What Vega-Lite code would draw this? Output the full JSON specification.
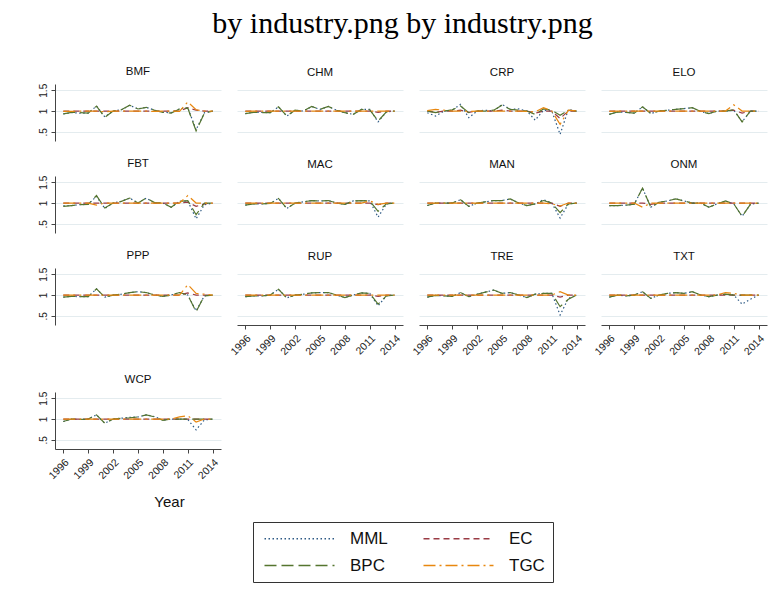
{
  "$schema": "https://vega.github.io/schema/vega-lite/v6.json",
  "padding": {"left": 38, "top": 8, "right": 5, "bottom": 5},
  "background": "white",
  "title": {"text": "by industry.png by industry.png", "font": "Liberation Serif", "fontSize": 30, "fontWeight": "normal", "color": "#000", "anchor": "middle", "offset": 27},
  "data": {"values": [
{"i":"BMF","y":1996,"MML":0.93,"EC":1,"BPC":0.93,"TGC":0.99},
{"i":"BMF","y":1997,"MML":0.96,"EC":1,"BPC":0.97,"TGC":0.99},
{"i":"BMF","y":1998,"MML":0.95,"EC":1,"BPC":0.96,"TGC":1},
{"i":"BMF","y":1999,"MML":0.95,"EC":1,"BPC":0.95,"TGC":1},
{"i":"BMF","y":2000,"MML":1.12,"EC":1,"BPC":1.12,"TGC":1},
{"i":"BMF","y":2001,"MML":0.86,"EC":1,"BPC":0.85,"TGC":0.98},
{"i":"BMF","y":2002,"MML":1.0,"EC":1,"BPC":1.0,"TGC":1},
{"i":"BMF","y":2003,"MML":1.03,"EC":1,"BPC":1.03,"TGC":1},
{"i":"BMF","y":2004,"MML":1.14,"EC":1,"BPC":1.14,"TGC":1},
{"i":"BMF","y":2005,"MML":1.05,"EC":1,"BPC":1.05,"TGC":1},
{"i":"BMF","y":2006,"MML":1.09,"EC":1,"BPC":1.09,"TGC":1},
{"i":"BMF","y":2007,"MML":1.02,"EC":1,"BPC":1.02,"TGC":0.99},
{"i":"BMF","y":2008,"MML":0.97,"EC":1,"BPC":0.97,"TGC":1},
{"i":"BMF","y":2009,"MML":0.96,"EC":1,"BPC":0.95,"TGC":1},
{"i":"BMF","y":2010,"MML":1.05,"EC":1,"BPC":1.05,"TGC":0.99},
{"i":"BMF","y":2011,"MML":1.08,"EC":1.08,"BPC":1.07,"TGC":1.22},
{"i":"BMF","y":2012,"MML":0.55,"EC":1.02,"BPC":0.52,"TGC":1.03},
{"i":"BMF","y":2013,"MML":0.96,"EC":1,"BPC":0.95,"TGC":1},
{"i":"BMF","y":2014,"MML":1.0,"EC":1,"BPC":1.0,"TGC":1},
{"i":"CHM","y":1996,"MML":0.94,"EC":1,"BPC":0.94,"TGC":0.99},
{"i":"CHM","y":1997,"MML":0.97,"EC":1,"BPC":0.97,"TGC":1},
{"i":"CHM","y":1998,"MML":0.97,"EC":1,"BPC":0.96,"TGC":1},
{"i":"CHM","y":1999,"MML":0.96,"EC":1,"BPC":0.96,"TGC":1},
{"i":"CHM","y":2000,"MML":1.1,"EC":1,"BPC":1.1,"TGC":1},
{"i":"CHM","y":2001,"MML":0.88,"EC":1,"BPC":0.88,"TGC":1},
{"i":"CHM","y":2002,"MML":1.02,"EC":1,"BPC":1.02,"TGC":1},
{"i":"CHM","y":2003,"MML":1.0,"EC":1,"BPC":1.0,"TGC":1},
{"i":"CHM","y":2004,"MML":1.11,"EC":1,"BPC":1.11,"TGC":1},
{"i":"CHM","y":2005,"MML":1.04,"EC":1,"BPC":1.04,"TGC":1},
{"i":"CHM","y":2006,"MML":1.11,"EC":1,"BPC":1.11,"TGC":1},
{"i":"CHM","y":2007,"MML":1.02,"EC":1,"BPC":1.02,"TGC":1},
{"i":"CHM","y":2008,"MML":0.96,"EC":1,"BPC":0.96,"TGC":1},
{"i":"CHM","y":2009,"MML":0.92,"EC":1,"BPC":0.92,"TGC":1},
{"i":"CHM","y":2010,"MML":1.04,"EC":1,"BPC":1.04,"TGC":1},
{"i":"CHM","y":2011,"MML":1.04,"EC":1,"BPC":1.03,"TGC":1},
{"i":"CHM","y":2012,"MML":0.74,"EC":0.97,"BPC":0.76,"TGC":1},
{"i":"CHM","y":2013,"MML":0.98,"EC":1,"BPC":0.98,"TGC":1},
{"i":"CHM","y":2014,"MML":1.0,"EC":1,"BPC":1.0,"TGC":1},
{"i":"CRP","y":1996,"MML":0.96,"EC":1,"BPC":1.0,"TGC":1.01},
{"i":"CRP","y":1997,"MML":0.88,"EC":0.97,"BPC":0.96,"TGC":1.04},
{"i":"CRP","y":1998,"MML":1.0,"EC":1,"BPC":1.0,"TGC":1.02},
{"i":"CRP","y":1999,"MML":1.02,"EC":1,"BPC":1.03,"TGC":1.0},
{"i":"CRP","y":2000,"MML":1.16,"EC":1.02,"BPC":1.12,"TGC":1.0},
{"i":"CRP","y":2001,"MML":0.84,"EC":0.97,"BPC":0.96,"TGC":0.99},
{"i":"CRP","y":2002,"MML":1.0,"EC":1,"BPC":1.0,"TGC":1},
{"i":"CRP","y":2003,"MML":1.02,"EC":1,"BPC":1.0,"TGC":1},
{"i":"CRP","y":2004,"MML":1.0,"EC":1,"BPC":1.02,"TGC":1},
{"i":"CRP","y":2005,"MML":1.16,"EC":1.02,"BPC":1.14,"TGC":1},
{"i":"CRP","y":2006,"MML":1.04,"EC":1,"BPC":1.04,"TGC":1},
{"i":"CRP","y":2007,"MML":1.05,"EC":1,"BPC":1.02,"TGC":1},
{"i":"CRP","y":2008,"MML":1.0,"EC":1,"BPC":1.0,"TGC":0.99},
{"i":"CRP","y":2009,"MML":0.78,"EC":0.95,"BPC":0.92,"TGC":0.98},
{"i":"CRP","y":2010,"MML":1.02,"EC":1,"BPC":1.05,"TGC":1.08},
{"i":"CRP","y":2011,"MML":1.0,"EC":1,"BPC":1.02,"TGC":1.0},
{"i":"CRP","y":2012,"MML":0.44,"EC":0.82,"BPC":0.9,"TGC":0.68},
{"i":"CRP","y":2013,"MML":1.04,"EC":1,"BPC":1.02,"TGC":1.02},
{"i":"CRP","y":2014,"MML":1.0,"EC":1,"BPC":1.0,"TGC":1},
{"i":"ELO","y":1996,"MML":0.92,"EC":1,"BPC":0.92,"TGC":0.99},
{"i":"ELO","y":1997,"MML":0.98,"EC":1,"BPC":0.98,"TGC":1},
{"i":"ELO","y":1998,"MML":0.97,"EC":1,"BPC":0.97,"TGC":1},
{"i":"ELO","y":1999,"MML":0.95,"EC":1,"BPC":0.95,"TGC":1},
{"i":"ELO","y":2000,"MML":1.1,"EC":1,"BPC":1.1,"TGC":1},
{"i":"ELO","y":2001,"MML":0.94,"EC":1,"BPC":0.94,"TGC":1},
{"i":"ELO","y":2002,"MML":1.0,"EC":1,"BPC":1.0,"TGC":1},
{"i":"ELO","y":2003,"MML":1.02,"EC":1,"BPC":1.02,"TGC":1},
{"i":"ELO","y":2004,"MML":1.04,"EC":1,"BPC":1.04,"TGC":1},
{"i":"ELO","y":2005,"MML":1.06,"EC":1,"BPC":1.06,"TGC":1},
{"i":"ELO","y":2006,"MML":1.08,"EC":1,"BPC":1.08,"TGC":1},
{"i":"ELO","y":2007,"MML":0.99,"EC":1,"BPC":0.99,"TGC":1},
{"i":"ELO","y":2008,"MML":0.94,"EC":1,"BPC":0.94,"TGC":1},
{"i":"ELO","y":2009,"MML":1.0,"EC":1,"BPC":1.0,"TGC":1},
{"i":"ELO","y":2010,"MML":1.0,"EC":1,"BPC":1.0,"TGC":1},
{"i":"ELO","y":2011,"MML":1.02,"EC":1.02,"BPC":1.03,"TGC":1.15},
{"i":"ELO","y":2012,"MML":0.74,"EC":0.95,"BPC":0.74,"TGC":1.0},
{"i":"ELO","y":2013,"MML":1.0,"EC":1,"BPC":1.0,"TGC":1},
{"i":"ELO","y":2014,"MML":1.0,"EC":1,"BPC":1.0,"TGC":1},
{"i":"FBT","y":1996,"MML":0.93,"EC":1,"BPC":0.92,"TGC":1},
{"i":"FBT","y":1997,"MML":0.94,"EC":1,"BPC":0.94,"TGC":1},
{"i":"FBT","y":1998,"MML":0.96,"EC":1,"BPC":0.96,"TGC":1},
{"i":"FBT","y":1999,"MML":0.97,"EC":1,"BPC":0.97,"TGC":1},
{"i":"FBT","y":2000,"MML":1.16,"EC":1,"BPC":1.18,"TGC":0.95},
{"i":"FBT","y":2001,"MML":0.87,"EC":1,"BPC":0.88,"TGC":1},
{"i":"FBT","y":2002,"MML":1.0,"EC":1,"BPC":1.0,"TGC":1},
{"i":"FBT","y":2003,"MML":1.04,"EC":1,"BPC":1.04,"TGC":1},
{"i":"FBT","y":2004,"MML":1.12,"EC":1,"BPC":1.12,"TGC":1},
{"i":"FBT","y":2005,"MML":1.0,"EC":1,"BPC":1.0,"TGC":1},
{"i":"FBT","y":2006,"MML":1.12,"EC":1,"BPC":1.12,"TGC":1},
{"i":"FBT","y":2007,"MML":1.0,"EC":1,"BPC":1.01,"TGC":1},
{"i":"FBT","y":2008,"MML":1.0,"EC":1,"BPC":1.0,"TGC":1},
{"i":"FBT","y":2009,"MML":0.9,"EC":1,"BPC":0.9,"TGC":1},
{"i":"FBT","y":2010,"MML":1.04,"EC":1,"BPC":1.04,"TGC":1},
{"i":"FBT","y":2011,"MML":1.05,"EC":1.02,"BPC":1.06,"TGC":1.18},
{"i":"FBT","y":2012,"MML":0.62,"EC":0.92,"BPC":0.72,"TGC":1.0},
{"i":"FBT","y":2013,"MML":0.96,"EC":0.98,"BPC":1.0,"TGC":1},
{"i":"FBT","y":2014,"MML":1.0,"EC":1,"BPC":1.0,"TGC":1},
{"i":"MAC","y":1996,"MML":0.95,"EC":1,"BPC":0.95,"TGC":1},
{"i":"MAC","y":1997,"MML":0.98,"EC":1,"BPC":0.98,"TGC":1},
{"i":"MAC","y":1998,"MML":0.98,"EC":1,"BPC":0.98,"TGC":1},
{"i":"MAC","y":1999,"MML":0.99,"EC":1,"BPC":0.99,"TGC":1},
{"i":"MAC","y":2000,"MML":1.11,"EC":1,"BPC":1.11,"TGC":1},
{"i":"MAC","y":2001,"MML":0.87,"EC":1,"BPC":0.87,"TGC":1},
{"i":"MAC","y":2002,"MML":1.0,"EC":1,"BPC":1.0,"TGC":1},
{"i":"MAC","y":2003,"MML":1.03,"EC":1,"BPC":1.03,"TGC":1},
{"i":"MAC","y":2004,"MML":1.06,"EC":1,"BPC":1.06,"TGC":1},
{"i":"MAC","y":2005,"MML":1.05,"EC":1,"BPC":1.05,"TGC":1},
{"i":"MAC","y":2006,"MML":1.06,"EC":1,"BPC":1.06,"TGC":1},
{"i":"MAC","y":2007,"MML":1.0,"EC":1,"BPC":1.0,"TGC":1},
{"i":"MAC","y":2008,"MML":0.97,"EC":1,"BPC":0.97,"TGC":1},
{"i":"MAC","y":2009,"MML":1.05,"EC":1,"BPC":1.05,"TGC":1},
{"i":"MAC","y":2010,"MML":1.06,"EC":1,"BPC":1.06,"TGC":1},
{"i":"MAC","y":2011,"MML":1.05,"EC":1,"BPC":1.05,"TGC":1.05},
{"i":"MAC","y":2012,"MML":0.66,"EC":0.96,"BPC":0.8,"TGC":0.97},
{"i":"MAC","y":2013,"MML":0.98,"EC":1,"BPC":0.98,"TGC":1},
{"i":"MAC","y":2014,"MML":1.0,"EC":1,"BPC":1.0,"TGC":1},
{"i":"MAN","y":1996,"MML":0.94,"EC":1,"BPC":0.94,"TGC":1},
{"i":"MAN","y":1997,"MML":1.0,"EC":1,"BPC":1.0,"TGC":1},
{"i":"MAN","y":1998,"MML":1.0,"EC":1,"BPC":1.0,"TGC":1},
{"i":"MAN","y":1999,"MML":1.0,"EC":1,"BPC":1.0,"TGC":1},
{"i":"MAN","y":2000,"MML":1.08,"EC":1,"BPC":1.08,"TGC":1},
{"i":"MAN","y":2001,"MML":0.92,"EC":1,"BPC":0.92,"TGC":1},
{"i":"MAN","y":2002,"MML":1.0,"EC":1,"BPC":1.0,"TGC":1},
{"i":"MAN","y":2003,"MML":1.03,"EC":1,"BPC":1.03,"TGC":1},
{"i":"MAN","y":2004,"MML":1.06,"EC":1,"BPC":1.06,"TGC":1},
{"i":"MAN","y":2005,"MML":1.06,"EC":1,"BPC":1.06,"TGC":1},
{"i":"MAN","y":2006,"MML":1.1,"EC":1,"BPC":1.1,"TGC":1},
{"i":"MAN","y":2007,"MML":1.0,"EC":1,"BPC":1.0,"TGC":1},
{"i":"MAN","y":2008,"MML":0.94,"EC":1,"BPC":0.94,"TGC":1},
{"i":"MAN","y":2009,"MML":0.98,"EC":1,"BPC":0.98,"TGC":1},
{"i":"MAN","y":2010,"MML":1.08,"EC":1,"BPC":1.06,"TGC":1},
{"i":"MAN","y":2011,"MML":1.0,"EC":1,"BPC":1.0,"TGC":0.98},
{"i":"MAN","y":2012,"MML":0.64,"EC":0.92,"BPC":0.77,"TGC":0.93},
{"i":"MAN","y":2013,"MML":0.98,"EC":1,"BPC":0.98,"TGC":1},
{"i":"MAN","y":2014,"MML":1.0,"EC":1,"BPC":1.0,"TGC":1},
{"i":"ONM","y":1996,"MML":0.94,"EC":1,"BPC":0.94,"TGC":1},
{"i":"ONM","y":1997,"MML":0.94,"EC":1,"BPC":0.94,"TGC":1},
{"i":"ONM","y":1998,"MML":0.95,"EC":1,"BPC":0.95,"TGC":1},
{"i":"ONM","y":1999,"MML":0.97,"EC":1,"BPC":0.97,"TGC":1},
{"i":"ONM","y":2000,"MML":1.36,"EC":1,"BPC":1.36,"TGC":0.9},
{"i":"ONM","y":2001,"MML":0.9,"EC":0.97,"BPC":0.9,"TGC":1},
{"i":"ONM","y":2002,"MML":1.02,"EC":1,"BPC":1.02,"TGC":1},
{"i":"ONM","y":2003,"MML":1.05,"EC":1,"BPC":1.05,"TGC":1},
{"i":"ONM","y":2004,"MML":1.1,"EC":1,"BPC":1.1,"TGC":1},
{"i":"ONM","y":2005,"MML":1.05,"EC":1,"BPC":1.05,"TGC":1},
{"i":"ONM","y":2006,"MML":1.0,"EC":1,"BPC":1.0,"TGC":1},
{"i":"ONM","y":2007,"MML":1.0,"EC":1,"BPC":1.0,"TGC":1},
{"i":"ONM","y":2008,"MML":0.9,"EC":1,"BPC":0.9,"TGC":1},
{"i":"ONM","y":2009,"MML":0.98,"EC":1,"BPC":0.98,"TGC":1},
{"i":"ONM","y":2010,"MML":1.05,"EC":1,"BPC":1.05,"TGC":1},
{"i":"ONM","y":2011,"MML":0.98,"EC":1,"BPC":0.98,"TGC":1},
{"i":"ONM","y":2012,"MML":0.68,"EC":1,"BPC":0.68,"TGC":1},
{"i":"ONM","y":2013,"MML":0.97,"EC":1,"BPC":0.97,"TGC":1},
{"i":"ONM","y":2014,"MML":1.0,"EC":1,"BPC":1.0,"TGC":1},
{"i":"PPP","y":1996,"MML":0.95,"EC":1,"BPC":0.95,"TGC":1},
{"i":"PPP","y":1997,"MML":0.97,"EC":1,"BPC":0.97,"TGC":1},
{"i":"PPP","y":1998,"MML":0.96,"EC":1,"BPC":0.96,"TGC":1},
{"i":"PPP","y":1999,"MML":0.96,"EC":1,"BPC":0.96,"TGC":1},
{"i":"PPP","y":2000,"MML":1.15,"EC":1,"BPC":1.15,"TGC":1},
{"i":"PPP","y":2001,"MML":0.95,"EC":1,"BPC":0.95,"TGC":1},
{"i":"PPP","y":2002,"MML":1.0,"EC":1,"BPC":1.0,"TGC":1},
{"i":"PPP","y":2003,"MML":1.02,"EC":1,"BPC":1.02,"TGC":1},
{"i":"PPP","y":2004,"MML":1.06,"EC":1,"BPC":1.06,"TGC":1},
{"i":"PPP","y":2005,"MML":1.08,"EC":1,"BPC":1.08,"TGC":1},
{"i":"PPP","y":2006,"MML":1.06,"EC":1,"BPC":1.06,"TGC":1},
{"i":"PPP","y":2007,"MML":1.0,"EC":1,"BPC":1.0,"TGC":1},
{"i":"PPP","y":2008,"MML":0.97,"EC":1,"BPC":0.97,"TGC":1},
{"i":"PPP","y":2009,"MML":1.0,"EC":1,"BPC":1.0,"TGC":1},
{"i":"PPP","y":2010,"MML":1.06,"EC":1,"BPC":1.06,"TGC":1},
{"i":"PPP","y":2011,"MML":1.0,"EC":1.05,"BPC":1.0,"TGC":1.25},
{"i":"PPP","y":2012,"MML":0.62,"EC":1.0,"BPC":0.6,"TGC":1.04},
{"i":"PPP","y":2013,"MML":0.98,"EC":1,"BPC":0.98,"TGC":1.02},
{"i":"PPP","y":2014,"MML":1.0,"EC":1,"BPC":1.0,"TGC":1},
{"i":"RUP","y":1996,"MML":0.96,"EC":1,"BPC":0.96,"TGC":1},
{"i":"RUP","y":1997,"MML":0.98,"EC":1,"BPC":0.98,"TGC":1},
{"i":"RUP","y":1998,"MML":0.98,"EC":1,"BPC":0.98,"TGC":1},
{"i":"RUP","y":1999,"MML":1.0,"EC":1,"BPC":1.0,"TGC":1},
{"i":"RUP","y":2000,"MML":1.14,"EC":1,"BPC":1.14,"TGC":1},
{"i":"RUP","y":2001,"MML":0.93,"EC":1,"BPC":0.93,"TGC":1},
{"i":"RUP","y":2002,"MML":1.0,"EC":1,"BPC":1.0,"TGC":1},
{"i":"RUP","y":2003,"MML":1.02,"EC":1,"BPC":1.02,"TGC":1},
{"i":"RUP","y":2004,"MML":1.05,"EC":1,"BPC":1.05,"TGC":1},
{"i":"RUP","y":2005,"MML":1.06,"EC":1,"BPC":1.06,"TGC":1},
{"i":"RUP","y":2006,"MML":1.06,"EC":1,"BPC":1.06,"TGC":1},
{"i":"RUP","y":2007,"MML":1.0,"EC":1,"BPC":1.0,"TGC":1},
{"i":"RUP","y":2008,"MML":0.94,"EC":1,"BPC":0.94,"TGC":1},
{"i":"RUP","y":2009,"MML":1.0,"EC":1,"BPC":1.0,"TGC":1},
{"i":"RUP","y":2010,"MML":1.05,"EC":1,"BPC":1.05,"TGC":1},
{"i":"RUP","y":2011,"MML":1.04,"EC":1,"BPC":1.04,"TGC":1},
{"i":"RUP","y":2012,"MML":0.74,"EC":0.97,"BPC":0.78,"TGC":1},
{"i":"RUP","y":2013,"MML":0.98,"EC":1,"BPC":0.98,"TGC":1},
{"i":"RUP","y":2014,"MML":1.0,"EC":1,"BPC":1.0,"TGC":1},
{"i":"TRE","y":1996,"MML":0.95,"EC":1,"BPC":0.95,"TGC":1},
{"i":"TRE","y":1997,"MML":0.99,"EC":1,"BPC":0.99,"TGC":1},
{"i":"TRE","y":1998,"MML":0.98,"EC":1,"BPC":0.98,"TGC":1},
{"i":"TRE","y":1999,"MML":0.97,"EC":1,"BPC":0.97,"TGC":1},
{"i":"TRE","y":2000,"MML":1.06,"EC":1,"BPC":1.06,"TGC":1},
{"i":"TRE","y":2001,"MML":0.96,"EC":1,"BPC":0.96,"TGC":1},
{"i":"TRE","y":2002,"MML":1.02,"EC":1,"BPC":1.02,"TGC":1},
{"i":"TRE","y":2003,"MML":1.07,"EC":1,"BPC":1.07,"TGC":1},
{"i":"TRE","y":2004,"MML":1.12,"EC":1,"BPC":1.12,"TGC":1},
{"i":"TRE","y":2005,"MML":1.04,"EC":1,"BPC":1.04,"TGC":1},
{"i":"TRE","y":2006,"MML":1.06,"EC":1,"BPC":1.06,"TGC":1},
{"i":"TRE","y":2007,"MML":1.0,"EC":1,"BPC":1.0,"TGC":1},
{"i":"TRE","y":2008,"MML":0.94,"EC":1,"BPC":0.94,"TGC":1},
{"i":"TRE","y":2009,"MML":1.02,"EC":1,"BPC":1.02,"TGC":1},
{"i":"TRE","y":2010,"MML":1.04,"EC":1,"BPC":1.04,"TGC":1},
{"i":"TRE","y":2011,"MML":1.04,"EC":1,"BPC":1.04,"TGC":1},
{"i":"TRE","y":2012,"MML":0.52,"EC":0.95,"BPC":0.72,"TGC":1.08},
{"i":"TRE","y":2013,"MML":0.92,"EC":1,"BPC":0.9,"TGC":1},
{"i":"TRE","y":2014,"MML":1.0,"EC":1,"BPC":1.0,"TGC":1},
{"i":"TXT","y":1996,"MML":0.95,"EC":1,"BPC":0.95,"TGC":1},
{"i":"TXT","y":1997,"MML":1.0,"EC":1,"BPC":1.0,"TGC":1},
{"i":"TXT","y":1998,"MML":0.98,"EC":1,"BPC":0.98,"TGC":1},
{"i":"TXT","y":1999,"MML":1.0,"EC":1,"BPC":1.0,"TGC":1},
{"i":"TXT","y":2000,"MML":1.08,"EC":1,"BPC":1.08,"TGC":1},
{"i":"TXT","y":2001,"MML":0.92,"EC":1,"BPC":0.92,"TGC":1},
{"i":"TXT","y":2002,"MML":1.0,"EC":1,"BPC":1.0,"TGC":1},
{"i":"TXT","y":2003,"MML":1.04,"EC":1,"BPC":1.04,"TGC":1},
{"i":"TXT","y":2004,"MML":1.06,"EC":1,"BPC":1.06,"TGC":1},
{"i":"TXT","y":2005,"MML":1.04,"EC":1,"BPC":1.04,"TGC":1},
{"i":"TXT","y":2006,"MML":1.08,"EC":1,"BPC":1.08,"TGC":1},
{"i":"TXT","y":2007,"MML":1.0,"EC":1,"BPC":1.0,"TGC":1},
{"i":"TXT","y":2008,"MML":0.96,"EC":1,"BPC":0.96,"TGC":1},
{"i":"TXT","y":2009,"MML":1.0,"EC":1,"BPC":1.0,"TGC":1},
{"i":"TXT","y":2010,"MML":1.02,"EC":1,"BPC":1.02,"TGC":1.06},
{"i":"TXT","y":2011,"MML":1.0,"EC":1,"BPC":1.0,"TGC":1.04},
{"i":"TXT","y":2012,"MML":0.78,"EC":1,"BPC":1.0,"TGC":1},
{"i":"TXT","y":2013,"MML":0.9,"EC":1,"BPC":1.0,"TGC":1},
{"i":"TXT","y":2014,"MML":1.0,"EC":1,"BPC":1.0,"TGC":1},
{"i":"WCP","y":1996,"MML":0.94,"EC":1,"BPC":0.94,"TGC":1},
{"i":"WCP","y":1997,"MML":1.0,"EC":1,"BPC":1.0,"TGC":1},
{"i":"WCP","y":1998,"MML":0.99,"EC":1,"BPC":0.99,"TGC":1},
{"i":"WCP","y":1999,"MML":1.0,"EC":1,"BPC":1.0,"TGC":1},
{"i":"WCP","y":2000,"MML":1.1,"EC":1,"BPC":1.1,"TGC":1},
{"i":"WCP","y":2001,"MML":0.9,"EC":1,"BPC":0.9,"TGC":1},
{"i":"WCP","y":2002,"MML":1.0,"EC":1,"BPC":1.0,"TGC":1},
{"i":"WCP","y":2003,"MML":1.02,"EC":1,"BPC":1.02,"TGC":1},
{"i":"WCP","y":2004,"MML":1.04,"EC":1,"BPC":1.03,"TGC":1},
{"i":"WCP","y":2005,"MML":1.05,"EC":1,"BPC":1.05,"TGC":1},
{"i":"WCP","y":2006,"MML":1.1,"EC":1,"BPC":1.1,"TGC":1},
{"i":"WCP","y":2007,"MML":1.06,"EC":1,"BPC":1.05,"TGC":1},
{"i":"WCP","y":2008,"MML":0.97,"EC":1,"BPC":0.97,"TGC":1},
{"i":"WCP","y":2009,"MML":1.0,"EC":1,"BPC":1.0,"TGC":1},
{"i":"WCP","y":2010,"MML":1.0,"EC":1,"BPC":1.0,"TGC":1.05},
{"i":"WCP","y":2011,"MML":0.99,"EC":1,"BPC":1.0,"TGC":1.08},
{"i":"WCP","y":2012,"MML":0.74,"EC":1,"BPC":1.0,"TGC":0.93},
{"i":"WCP","y":2013,"MML":0.98,"EC":1,"BPC":1.0,"TGC":1.0},
{"i":"WCP","y":2014,"MML":1.0,"EC":1,"BPC":1.0,"TGC":1}
  ]},
  "transform": [{"fold": ["MML", "EC", "BPC", "TGC"], "as": ["series", "value"]}],
  "columns": 4,
  "align": "each",
  "spacing": {"row": 16, "column": 7},
  "resolve": {"scale": {"color": "shared", "strokeDash": "shared"}},
  "concat": [
    {"title": "BMF", "transform": [{"filter": "datum.i == 'BMF'"}], "width": 166, "height": 57, "mark": {"type": "line", "strokeWidth": 1.2},
     "encoding": {
      "x": {"field": "y", "type": "quantitative", "scale": {"domain": [1995, 2015], "nice": false, "zero": false}, "axis": null},
      "y": {"field": "value", "type": "quantitative", "scale": {"domain": [0.28, 1.65], "nice": false, "zero": false}, "axis": {"values": [0.5, 1, 1.5], "labelExpr": "datum.value == 0.5 ? '.5' : datum.value == 1 ? '1' : '1.5'", "title": null}},
      "color": {"field": "series", "type": "nominal", "title": null, "scale": {"domain": ["MML", "EC", "BPC", "TGC"], "range": ["#2e5a85", "#9a3b45", "#55752f", "#e8870f"]}},
      "strokeDash": {"field": "series", "type": "nominal", "title": null, "scale": {"domain": ["MML", "EC", "BPC", "TGC"], "range": [[1.5, 2.5], [6, 4], [12, 5], [12, 4, 2, 4]]}}}},
    {"title": "CHM", "transform": [{"filter": "datum.i == 'CHM'"}], "width": 166, "height": 57, "mark": {"type": "line", "strokeWidth": 1.2},
     "encoding": {
      "x": {"field": "y", "type": "quantitative", "scale": {"domain": [1995, 2015], "nice": false, "zero": false}, "axis": null},
      "y": {"field": "value", "type": "quantitative", "scale": {"domain": [0.28, 1.65], "nice": false, "zero": false}, "axis": {"values": [0.5, 1, 1.5], "labels": false, "ticks": false, "domain": false, "title": null}},
      "color": {"field": "series", "type": "nominal", "title": null, "scale": {"domain": ["MML", "EC", "BPC", "TGC"], "range": ["#2e5a85", "#9a3b45", "#55752f", "#e8870f"]}},
      "strokeDash": {"field": "series", "type": "nominal", "title": null, "scale": {"domain": ["MML", "EC", "BPC", "TGC"], "range": [[1.5, 2.5], [6, 4], [12, 5], [12, 4, 2, 4]]}}}},
    {"title": "CRP", "transform": [{"filter": "datum.i == 'CRP'"}], "width": 166, "height": 57, "mark": {"type": "line", "strokeWidth": 1.2},
     "encoding": {
      "x": {"field": "y", "type": "quantitative", "scale": {"domain": [1995, 2015], "nice": false, "zero": false}, "axis": null},
      "y": {"field": "value", "type": "quantitative", "scale": {"domain": [0.28, 1.65], "nice": false, "zero": false}, "axis": {"values": [0.5, 1, 1.5], "labels": false, "ticks": false, "domain": false, "title": null}},
      "color": {"field": "series", "type": "nominal", "title": null, "scale": {"domain": ["MML", "EC", "BPC", "TGC"], "range": ["#2e5a85", "#9a3b45", "#55752f", "#e8870f"]}},
      "strokeDash": {"field": "series", "type": "nominal", "title": null, "scale": {"domain": ["MML", "EC", "BPC", "TGC"], "range": [[1.5, 2.5], [6, 4], [12, 5], [12, 4, 2, 4]]}}}},
    {"title": "ELO", "transform": [{"filter": "datum.i == 'ELO'"}], "width": 166, "height": 57, "mark": {"type": "line", "strokeWidth": 1.2},
     "encoding": {
      "x": {"field": "y", "type": "quantitative", "scale": {"domain": [1995, 2015], "nice": false, "zero": false}, "axis": null},
      "y": {"field": "value", "type": "quantitative", "scale": {"domain": [0.28, 1.65], "nice": false, "zero": false}, "axis": {"values": [0.5, 1, 1.5], "labels": false, "ticks": false, "domain": false, "title": null}},
      "color": {"field": "series", "type": "nominal", "title": null, "scale": {"domain": ["MML", "EC", "BPC", "TGC"], "range": ["#2e5a85", "#9a3b45", "#55752f", "#e8870f"]}},
      "strokeDash": {"field": "series", "type": "nominal", "title": null, "scale": {"domain": ["MML", "EC", "BPC", "TGC"], "range": [[1.5, 2.5], [6, 4], [12, 5], [12, 4, 2, 4]]}}}},
    {"title": "FBT", "transform": [{"filter": "datum.i == 'FBT'"}], "width": 166, "height": 57, "mark": {"type": "line", "strokeWidth": 1.2},
     "encoding": {
      "x": {"field": "y", "type": "quantitative", "scale": {"domain": [1995, 2015], "nice": false, "zero": false}, "axis": null},
      "y": {"field": "value", "type": "quantitative", "scale": {"domain": [0.28, 1.65], "nice": false, "zero": false}, "axis": {"values": [0.5, 1, 1.5], "labelExpr": "datum.value == 0.5 ? '.5' : datum.value == 1 ? '1' : '1.5'", "title": null}},
      "color": {"field": "series", "type": "nominal", "title": null, "scale": {"domain": ["MML", "EC", "BPC", "TGC"], "range": ["#2e5a85", "#9a3b45", "#55752f", "#e8870f"]}},
      "strokeDash": {"field": "series", "type": "nominal", "title": null, "scale": {"domain": ["MML", "EC", "BPC", "TGC"], "range": [[1.5, 2.5], [6, 4], [12, 5], [12, 4, 2, 4]]}}}},
    {"title": "MAC", "transform": [{"filter": "datum.i == 'MAC'"}], "width": 166, "height": 57, "mark": {"type": "line", "strokeWidth": 1.2},
     "encoding": {
      "x": {"field": "y", "type": "quantitative", "scale": {"domain": [1995, 2015], "nice": false, "zero": false}, "axis": null},
      "y": {"field": "value", "type": "quantitative", "scale": {"domain": [0.28, 1.65], "nice": false, "zero": false}, "axis": {"values": [0.5, 1, 1.5], "labels": false, "ticks": false, "domain": false, "title": null}},
      "color": {"field": "series", "type": "nominal", "title": null, "scale": {"domain": ["MML", "EC", "BPC", "TGC"], "range": ["#2e5a85", "#9a3b45", "#55752f", "#e8870f"]}},
      "strokeDash": {"field": "series", "type": "nominal", "title": null, "scale": {"domain": ["MML", "EC", "BPC", "TGC"], "range": [[1.5, 2.5], [6, 4], [12, 5], [12, 4, 2, 4]]}}}},
    {"title": "MAN", "transform": [{"filter": "datum.i == 'MAN'"}], "width": 166, "height": 57, "mark": {"type": "line", "strokeWidth": 1.2},
     "encoding": {
      "x": {"field": "y", "type": "quantitative", "scale": {"domain": [1995, 2015], "nice": false, "zero": false}, "axis": null},
      "y": {"field": "value", "type": "quantitative", "scale": {"domain": [0.28, 1.65], "nice": false, "zero": false}, "axis": {"values": [0.5, 1, 1.5], "labels": false, "ticks": false, "domain": false, "title": null}},
      "color": {"field": "series", "type": "nominal", "title": null, "scale": {"domain": ["MML", "EC", "BPC", "TGC"], "range": ["#2e5a85", "#9a3b45", "#55752f", "#e8870f"]}},
      "strokeDash": {"field": "series", "type": "nominal", "title": null, "scale": {"domain": ["MML", "EC", "BPC", "TGC"], "range": [[1.5, 2.5], [6, 4], [12, 5], [12, 4, 2, 4]]}}}},
    {"title": "ONM", "transform": [{"filter": "datum.i == 'ONM'"}], "width": 166, "height": 57, "mark": {"type": "line", "strokeWidth": 1.2},
     "encoding": {
      "x": {"field": "y", "type": "quantitative", "scale": {"domain": [1995, 2015], "nice": false, "zero": false}, "axis": null},
      "y": {"field": "value", "type": "quantitative", "scale": {"domain": [0.28, 1.65], "nice": false, "zero": false}, "axis": {"values": [0.5, 1, 1.5], "labels": false, "ticks": false, "domain": false, "title": null}},
      "color": {"field": "series", "type": "nominal", "title": null, "scale": {"domain": ["MML", "EC", "BPC", "TGC"], "range": ["#2e5a85", "#9a3b45", "#55752f", "#e8870f"]}},
      "strokeDash": {"field": "series", "type": "nominal", "title": null, "scale": {"domain": ["MML", "EC", "BPC", "TGC"], "range": [[1.5, 2.5], [6, 4], [12, 5], [12, 4, 2, 4]]}}}},
    {"title": "PPP", "transform": [{"filter": "datum.i == 'PPP'"}], "width": 166, "height": 57, "mark": {"type": "line", "strokeWidth": 1.2},
     "encoding": {
      "x": {"field": "y", "type": "quantitative", "scale": {"domain": [1995, 2015], "nice": false, "zero": false}, "axis": null},
      "y": {"field": "value", "type": "quantitative", "scale": {"domain": [0.28, 1.65], "nice": false, "zero": false}, "axis": {"values": [0.5, 1, 1.5], "labelExpr": "datum.value == 0.5 ? '.5' : datum.value == 1 ? '1' : '1.5'", "title": null}},
      "color": {"field": "series", "type": "nominal", "title": null, "scale": {"domain": ["MML", "EC", "BPC", "TGC"], "range": ["#2e5a85", "#9a3b45", "#55752f", "#e8870f"]}},
      "strokeDash": {"field": "series", "type": "nominal", "title": null, "scale": {"domain": ["MML", "EC", "BPC", "TGC"], "range": [[1.5, 2.5], [6, 4], [12, 5], [12, 4, 2, 4]]}}}},
    {"title": "RUP", "transform": [{"filter": "datum.i == 'RUP'"}], "width": 166, "height": 57, "mark": {"type": "line", "strokeWidth": 1.2},
     "encoding": {
      "x": {"field": "y", "type": "quantitative", "scale": {"domain": [1995, 2015], "nice": false, "zero": false}, "axis": {"values": [1996, 1999, 2002, 2005, 2008, 2011, 2014], "format": "d", "title": null}},
      "y": {"field": "value", "type": "quantitative", "scale": {"domain": [0.28, 1.65], "nice": false, "zero": false}, "axis": {"values": [0.5, 1, 1.5], "labels": false, "ticks": false, "domain": false, "title": null}},
      "color": {"field": "series", "type": "nominal", "title": null, "scale": {"domain": ["MML", "EC", "BPC", "TGC"], "range": ["#2e5a85", "#9a3b45", "#55752f", "#e8870f"]}},
      "strokeDash": {"field": "series", "type": "nominal", "title": null, "scale": {"domain": ["MML", "EC", "BPC", "TGC"], "range": [[1.5, 2.5], [6, 4], [12, 5], [12, 4, 2, 4]]}}}},
    {"title": "TRE", "transform": [{"filter": "datum.i == 'TRE'"}], "width": 166, "height": 57, "mark": {"type": "line", "strokeWidth": 1.2},
     "encoding": {
      "x": {"field": "y", "type": "quantitative", "scale": {"domain": [1995, 2015], "nice": false, "zero": false}, "axis": {"values": [1996, 1999, 2002, 2005, 2008, 2011, 2014], "format": "d", "title": null}},
      "y": {"field": "value", "type": "quantitative", "scale": {"domain": [0.28, 1.65], "nice": false, "zero": false}, "axis": {"values": [0.5, 1, 1.5], "labels": false, "ticks": false, "domain": false, "title": null}},
      "color": {"field": "series", "type": "nominal", "title": null, "scale": {"domain": ["MML", "EC", "BPC", "TGC"], "range": ["#2e5a85", "#9a3b45", "#55752f", "#e8870f"]}},
      "strokeDash": {"field": "series", "type": "nominal", "title": null, "scale": {"domain": ["MML", "EC", "BPC", "TGC"], "range": [[1.5, 2.5], [6, 4], [12, 5], [12, 4, 2, 4]]}}}},
    {"title": "TXT", "transform": [{"filter": "datum.i == 'TXT'"}], "width": 166, "height": 57, "mark": {"type": "line", "strokeWidth": 1.2},
     "encoding": {
      "x": {"field": "y", "type": "quantitative", "scale": {"domain": [1995, 2015], "nice": false, "zero": false}, "axis": {"values": [1996, 1999, 2002, 2005, 2008, 2011, 2014], "format": "d", "title": null}},
      "y": {"field": "value", "type": "quantitative", "scale": {"domain": [0.28, 1.65], "nice": false, "zero": false}, "axis": {"values": [0.5, 1, 1.5], "labels": false, "ticks": false, "domain": false, "title": null}},
      "color": {"field": "series", "type": "nominal", "title": null, "scale": {"domain": ["MML", "EC", "BPC", "TGC"], "range": ["#2e5a85", "#9a3b45", "#55752f", "#e8870f"]}},
      "strokeDash": {"field": "series", "type": "nominal", "title": null, "scale": {"domain": ["MML", "EC", "BPC", "TGC"], "range": [[1.5, 2.5], [6, 4], [12, 5], [12, 4, 2, 4]]}}}},
    {"title": "WCP", "transform": [{"filter": "datum.i == 'WCP'"}], "width": 166, "height": 57, "mark": {"type": "line", "strokeWidth": 1.2},
     "encoding": {
      "x": {"field": "y", "type": "quantitative", "scale": {"domain": [1995, 2015], "nice": false, "zero": false}, "axis": {"values": [1996, 1999, 2002, 2005, 2008, 2011, 2014], "format": "d", "title": "Year", "titleFontSize": 15, "titleFontWeight": "normal", "titlePadding": 14, "titleX": 114}},
      "y": {"field": "value", "type": "quantitative", "scale": {"domain": [0.28, 1.65], "nice": false, "zero": false}, "axis": {"values": [0.5, 1, 1.5], "labelExpr": "datum.value == 0.5 ? '.5' : datum.value == 1 ? '1' : '1.5'", "title": null}},
      "color": {"field": "series", "type": "nominal", "title": null, "scale": {"domain": ["MML", "EC", "BPC", "TGC"], "range": ["#2e5a85", "#9a3b45", "#55752f", "#e8870f"]}},
      "strokeDash": {"field": "series", "type": "nominal", "title": null, "scale": {"domain": ["MML", "EC", "BPC", "TGC"], "range": [[1.5, 2.5], [6, 4], [12, 5], [12, 4, 2, 4]]}}}}
  ],
  "config": {
    "font": "Liberation Sans",
    "view": {"stroke": null},
    "title": {"fontSize": 11.5, "fontWeight": "normal", "color": "#111", "anchor": "middle", "offset": 6, "font": "Liberation Sans"},
    "axis": {"domainColor": "#444", "tickColor": "#444", "labelColor": "#222", "labelFontSize": 10, "tickSize": 4, "labelFont": "Liberation Sans", "titleFont": "Liberation Sans", "titleColor": "#111", "gridColor": "#e4ecef"},
    "axisX": {"labelAngle": -45, "grid": false, "labelFontSize": 10.5, "labelPadding": 4},
    "axisY": {"grid": true, "labelAngle": -90, "labelAlign": "center", "labelBaseline": "bottom", "labelPadding": 3},
    "legend": {"orient": "bottom", "direction": "horizontal", "columns": 2, "symbolType": "M-7,0H7", "symbolSize": 100, "symbolOffset": 30, "symbolStrokeWidth": 1.5, "labelFontSize": 17, "labelColor": "#111", "labelFont": "Liberation Sans", "labelOffset": 42, "columnPadding": 32, "rowPadding": 9, "padding": 8, "strokeColor": "#333", "offset": 12, "layout": {"bottom": {"anchor": "middle"}}}
  }
}
